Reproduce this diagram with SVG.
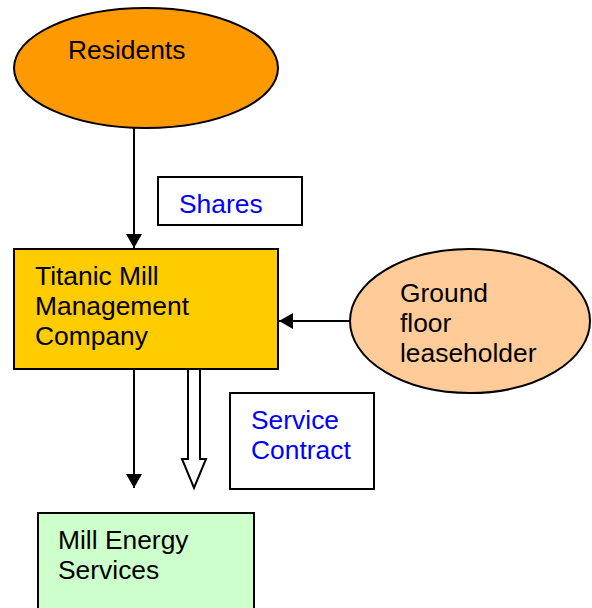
<svg xmlns="http://www.w3.org/2000/svg" width="592" height="608" viewBox="0 0 592 608">
<style>
text{font-family:"Liberation Sans",Arial,sans-serif;font-size:26.4px;fill:#000}
.lbl{fill:#0000FF}
.sh{stroke:#000;stroke-width:2}
.ln{stroke:#000;stroke-width:2;fill:none}
</style>
<defs>
<marker id="ah" markerWidth="14" markerHeight="16" refX="14" refY="8" orient="auto" markerUnits="userSpaceOnUse">
<path d="M0,0 L14,8 L0,16 Z" fill="#000"/>
</marker>
</defs>
<rect width="592" height="608" fill="#fff"/>
<g id="connectors">
<line class="ln" x1="134" y1="128" x2="134" y2="248" marker-end="url(#ah)"/>
<line class="ln" x1="350" y1="321" x2="279" y2="321" marker-end="url(#ah)"/>
<line class="ln" x1="134" y1="370" x2="134" y2="488" marker-end="url(#ah)"/>
<path class="ln" d="M188,370 L188,459 L182,459 L194,488 L206,459 L200,459 L200,370" fill="#fff"/>
</g>
<g id="residents">
<ellipse class="sh" cx="146" cy="68" rx="132" ry="60" fill="#FF9900"/>
<text x="68" y="59">Residents</text>
</g>
<g id="shares">
<rect class="sh" x="158" y="177" width="144" height="48" fill="#fff"/>
<text class="lbl" x="179" y="213">Shares</text>
</g>
<g id="titanic">
<rect class="sh" x="14" y="249" width="264" height="120" fill="#FFCC00"/>
<text x="35" y="285">Titanic Mill</text>
<text x="35" y="315">Management</text>
<text x="35" y="345">Company</text>
</g>
<g id="ground">
<ellipse class="sh" cx="470" cy="321" rx="120" ry="72" fill="#FFCC99"/>
<text x="400" y="302">Ground</text>
<text x="400" y="332">floor</text>
<text x="400" y="362">leaseholder</text>
</g>
<g id="service">
<rect class="sh" x="230" y="393" width="144" height="96" fill="#fff"/>
<text class="lbl" x="251" y="429">Service</text>
<text class="lbl" x="251" y="459">Contract</text>
</g>
<g id="energy">
<rect class="sh" x="38" y="513" width="216" height="110" fill="#CCFFCC"/>
<text x="58" y="549">Mill Energy</text>
<text x="58" y="579">Services</text>
</g>
</svg>
